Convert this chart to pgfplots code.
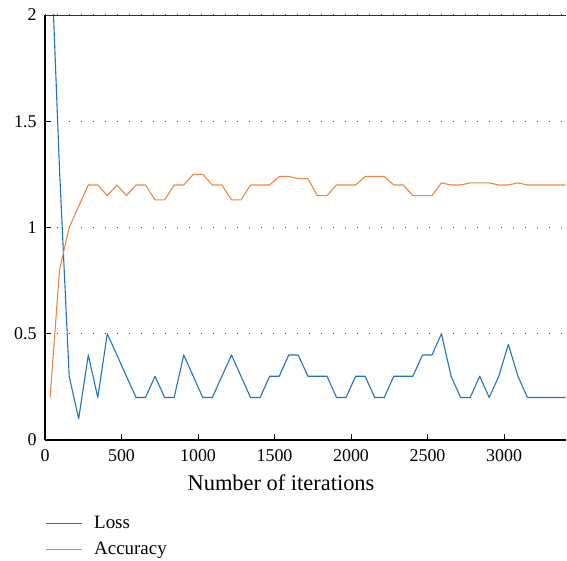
\documentclass[border=0pt]{standalone}
\usepackage{fontspec}
\setmainfont{Liberation Serif}
\usepackage{pgfplots}
\pgfplotsset{compat=1.18}
\definecolor{lossblue}{RGB}{33,113,196}
\definecolor{accorange}{RGB}{242,132,64}

\begin{document}
\begin{tikzpicture}[x=1bp,y=1bp]
\begin{axis}[
    name=ax,
    scale only axis,
    width=521bp, height=425bp,
    xmin=0, xmax=3405,
    ymin=0, ymax=2,
    axis x line*=bottom,
    axis y line*=left,
    axis line style={line width=1.6bp},
    xtick={0,500,...,3000},
    ytick={0,0.5,1,1.5,2},
    tick align=inside,
    major tick length=6bp,
    tick style={black, line width=0.8bp},
    ymajorgrids,
    grid style={black!75, line width=1bp, dash pattern=on 1bp off 11bp},
    /pgf/number format/assume math mode=true,
    /pgf/number format/1000 sep={},
    tick label style={font=\fontsize{18}{18}\selectfont},
    xticklabel style={yshift=-6bp},
    yticklabel style={xshift=-5bp},
    xlabel={Number of iterations},
    xlabel style={font=\fontsize{22.5}{22.5}\selectfont, at={(axis description cs:0.453,0)}, anchor=base, yshift=-50bp},
    legend style={at={(axis description cs:0,0)}, anchor=north west, yshift=-74bp,
        draw=none, fill=none, font=\fontsize{19}{19}\selectfont,
        row sep=8bp, inner sep=0pt,
        nodes={inner xsep=12bp}},
    legend cell align=left,
    legend image code/.code={\draw[#1, line width=1bp] (0bp,0bp) -- (36bp,0bp);},
    every axis plot/.append style={line width=1.1bp, line join=round},
    clip=true,
]
\addplot[lossblue] coordinates {
(33,2.42) (95,1.27) (158,0.3) (220,0.1) (283,0.4) (345,0.2) (407,0.5) (470,0.4)
(532,0.3) (595,0.2) (657,0.2) (719,0.3) (782,0.2) (844,0.2) (907,0.4) (969,0.3)
(1031,0.2) (1094,0.2) (1156,0.3) (1219,0.4) (1281,0.3) (1343,0.2) (1406,0.2) (1468,0.3)
(1531,0.3) (1593,0.4) (1655,0.4) (1718,0.3) (1780,0.3) (1843,0.3) (1905,0.2) (1967,0.2)
(2030,0.3) (2092,0.3) (2155,0.2) (2217,0.2) (2279,0.3) (2342,0.3) (2404,0.3) (2467,0.4)
(2529,0.4) (2591,0.5) (2654,0.3) (2716,0.2) (2779,0.2) (2841,0.3) (2903,0.2) (2966,0.3)
(3028,0.45) (3091,0.3) (3153,0.2) (3215,0.2) (3278,0.2) (3340,0.2) (3403,0.2)
};
\addlegendentry{Loss}
\addplot[accorange] coordinates {
(33,0.2) (95,0.8) (158,1.0) (220,1.1) (283,1.2) (345,1.2) (407,1.15) (470,1.2)
(532,1.15) (595,1.2) (657,1.2) (719,1.13) (782,1.13) (844,1.2) (907,1.2) (969,1.25)
(1031,1.25) (1094,1.2) (1156,1.2) (1219,1.13) (1281,1.13) (1343,1.2) (1406,1.2) (1468,1.2)
(1531,1.24) (1593,1.24) (1655,1.23) (1718,1.23) (1780,1.15) (1843,1.15) (1905,1.2) (1967,1.2)
(2030,1.2) (2092,1.24) (2155,1.24) (2217,1.24) (2279,1.2) (2342,1.2) (2404,1.15) (2467,1.15)
(2529,1.15) (2591,1.21) (2654,1.2) (2716,1.2) (2779,1.21) (2841,1.21) (2903,1.21) (2966,1.2)
(3028,1.2) (3091,1.21) (3153,1.2) (3215,1.2) (3278,1.2) (3340,1.2) (3403,1.2)
};
\addlegendentry{Accuracy}
\draw[black!80, line width=0.9bp] (rel axis cs:0,1) -- (rel axis cs:1,1);
\end{axis}
\pgfresetboundingbox
\useasboundingbox (-45bp,-121bp) rectangle (522bp,440bp);
\end{tikzpicture}
\end{document}
